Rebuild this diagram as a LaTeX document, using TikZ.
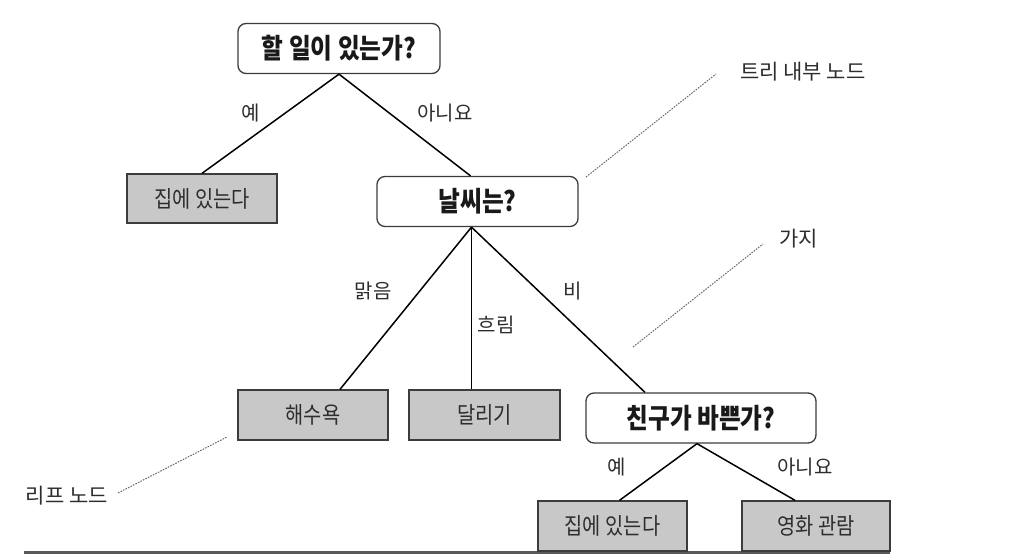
\documentclass[tikz,border=0pt]{standalone}
\usepackage{fontspec}
\newfontfamily\kr{Noto Sans CJK KR}
\newfontfamily\krn[FakeStretch=0.86]{Noto Sans CJK KR}
\usetikzlibrary{calc}
\definecolor{leafgray}{RGB}{200,200,200}
\definecolor{boxline}{RGB}{60,60,60}
\definecolor{txt}{RGB}{45,45,45}
\definecolor{dotgray}{RGB}{105,105,105}
\tikzset{
  qbox/.style={draw=boxline, line width=1.3pt, rounded corners=8pt, fill=white,
    minimum height=50pt, inner sep=0pt, font=\krn\bfseries\fontsize{27.5}{31}\selectfont, text=black!90},
  leafbox/.style={draw=boxline, line width=1.3pt, fill=leafgray,
    minimum height=50pt, inner sep=0pt, font=\krn\fontsize{23}{27}\selectfont, text=txt},
  edge/.style={line width=1.5pt, black},
  elabel/.style={font=\kr\fontsize{20}{24}\selectfont, text=txt, inner sep=0pt},
  annot/.style={font=\kr\fontsize{21}{25}\selectfont, text=txt, inner sep=0pt},
  dotline/.style={dotgray, line width=1pt, dash pattern=on 1.6pt off 1.2pt},
}
\begin{document}
\begin{tikzpicture}[x=1pt,y=-1pt]
\useasboundingbox (0,0) rectangle (1022,554);
% bottom rule
\draw[line width=3pt, gray!70!black] (24,552.5) -- (890,552.5);
% nodes
\node[qbox, minimum width=202pt] (root) at (339,48.5) {할 일이 있는가?};
\node[leafbox, minimum width=150pt, minimum height=49pt] (home1) at (202,198.5) {집에 있는다};
\node[qbox, minimum width=201pt] (weather) at (477.5,201.5) {날씨는?};
\node[leafbox, minimum width=150pt] (sea) at (313,415) {해수욕};
\node[leafbox, minimum width=151pt] (run) at (484.5,415) {달리기};
\node[qbox, minimum width=230pt] (friend) at (701,418) {친구가 바쁜가?};
\node[leafbox, minimum width=149pt] (home2) at (612.5,526) {집에 있는다};
\node[leafbox, minimum width=148pt] (movie) at (816,526) {영화 관람};
% edges
\draw[edge] (root.south) -- (home1.north);
\draw[edge] (root.south) -- ($(weather.north)+(-7,0)$);
\draw[edge] ($(weather.south)+(-6,0)$) -- ($(sea.north)+(27,0)$);
\draw[edge] ($(weather.south)+(-6,0)$) -- ($(run.north)+(-13,0)$);
\draw[edge] ($(weather.south)+(-6,0)$) -- ($(friend.north)+(-56,0)$);
\draw[edge] ($(friend.south)+(-4,0)$) -- ($(home2.north)+(7,0)$);
\draw[edge] ($(friend.south)+(-4,0)$) -- ($(movie.north)+(-21,0)$);
% edge labels
\node[elabel] (l1) at (251,113) {예};
\node[elabel] (l2) at (445,113) {아니요};
\node[elabel] (l3) at (373,291) {맑음};
\node[elabel] (l4) at (496,325) {흐림};
\node[elabel] (l5) at (573,291) {비};
\node[elabel] (l6) at (617,467) {예};
\node[elabel] (l7) at (805,467) {아니요};
% annotations
\node[annot, anchor=west] (a1) at (740,72) {트리 내부 노드};
\node[annot, anchor=west] (a2) at (779,239) {가지};
\node[annot, anchor=east] (a3) at (108,496) {리프 노드};
\coordinate (d1a) at (586,177);
\coordinate (d1b) at (716,74);
\coordinate (d2a) at (633,347);
\coordinate (d2b) at (763,244);
\coordinate (d3a) at (118,493);
\coordinate (d3b) at (227,437);
\draw[dotline] (d1a) -- (d1b);
\draw[dotline] (d2a) -- (d2b);
\draw[dotline] (d3a) -- (d3b);
\end{tikzpicture}
\end{document}
